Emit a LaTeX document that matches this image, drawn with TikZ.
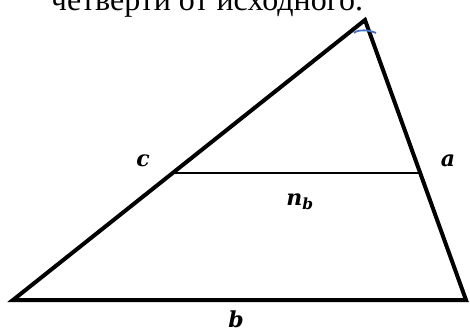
\documentclass[tikz,border=0pt]{standalone}
\usepackage{fontspec}
\setmainfont{Liberation Serif}
\newfontfamily\lblfont{DejaVu Serif}
\usepackage{xcolor}
\usepackage{tikz}
\usetikzlibrary{calc}
\definecolor{markcol}{RGB}{68,114,196}

\begin{document}
\begin{tikzpicture}[
  x=1pt, y=-1pt,
  side/.style={line width=4pt, black, line join=miter},
  midline/.style={line width=1.8pt, black},
  lbl/.style={font=\lblfont\fontsize{22}{24}\selectfont\bfseries\itshape, inner sep=0pt}
]
  \useasboundingbox (0,0) rectangle (470,329);
  \clip (0,0) rectangle (470,329);

  \node[font=\fontsize{32}{34}\selectfont, anchor=base, inner sep=0pt] (txt) at (207,11)
    {четверти от исходного.};

  \coordinate (A) at (13,300);
  \coordinate (B) at (365,20);
  \coordinate (C) at (466,300);
  \coordinate (M) at ($(B)!0.546!(A)$);
  \coordinate (N) at ($(B)!0.546!(C)$);

  \draw[side] (A) -- (B) -- (C) -- cycle;
  \draw[midline] (M) -- (N);
  \draw[markcol, line width=1.8pt] (354,33) .. controls (358,29) and (370,30) .. (376,33);

  \node[lbl, anchor=base] (lc) at (143,166) {c};
  \node[lbl, anchor=base] (la) at (448,166) {a};
  \node[lbl, anchor=base] (lnb) at (300,205) {n\textsubscript{b}};
  \node[lbl, anchor=base] (lb) at (236,327) {b};
\end{tikzpicture}
\end{document}
